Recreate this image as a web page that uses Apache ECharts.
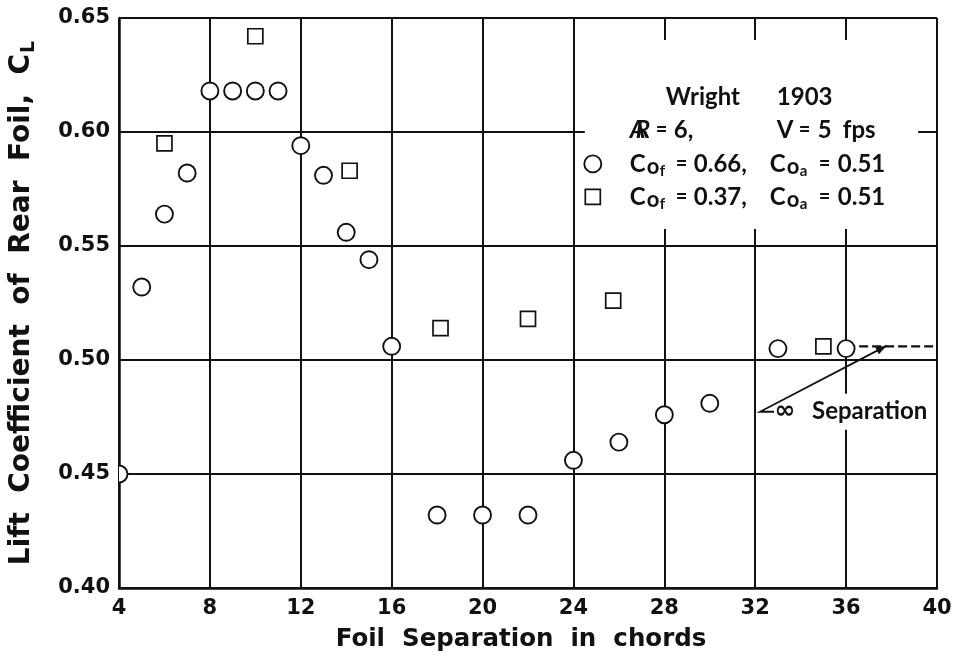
<!DOCTYPE html>
<html>
<head>
<meta charset="utf-8">
<script src="https://cdn.jsdelivr.net/npm/echarts@6/dist/echarts.min.js"></script>
<style>
  html, body { margin: 0; padding: 0; background: #fff; }
  #chart { width: 960px; height: 671px; }
</style>
</head>
<body>
<div id="chart"></div>
<script>
// Foil separation (chords) vs lift coefficient of the rear foil
const circleX = [4, 5, 6, 7, 8, 9, 10, 11, 12, 13, 14, 15, 16, 18, 20, 22, 24, 26, 28, 30, 33, 36];
const circleY = [0.450, 0.532, 0.564, 0.582, 0.618, 0.618, 0.618, 0.618, 0.594, 0.581, 0.556, 0.544, 0.506,
                 0.432, 0.432, 0.432, 0.456, 0.464, 0.476, 0.481, 0.505, 0.505];
const squareX = [6, 10, 14.15, 18.15, 22, 25.75, 35];
const squareY = [0.595, 0.642, 0.583, 0.514, 0.518, 0.526, 0.506];

// value at infinite separation, drawn as a dashed level from x = 36 onward
const infinityX = [36, 40];
const infinityY = [0.506, 0.506];

const xTicks = [4, 8, 12, 16, 20, 24, 28, 32, 36, 40];
const yTicks = [0.40, 0.45, 0.50, 0.55, 0.60, 0.65];

const seriesNames = ['Cof = 0.66, Coa = 0.51', 'Cof = 0.37, Coa = 0.51'];

const INK = '#111';
const LETTER = 'Lato';
const WIDE = 'DejaVu Sans';

const chart = echarts.init(document.getElementById('chart'), null, { renderer: 'canvas' });

const option = {
  backgroundColor: '#fff',
  animation: false,
  grid: { left: 119, right: 23, top: 18, bottom: 83, containLabel: false, outerBoundsMode: 'none' },
  xAxis: {
    type: 'value',
    min: xTicks[0], max: xTicks[xTicks.length - 1], interval: xTicks[1] - xTicks[0],
    name: 'Foil  Separation  in  chords',
    nameLocation: 'middle', nameGap: 39,
    nameTextStyle: { fontFamily: WIDE, fontWeight: 'bold', fontSize: 24.5, color: INK, padding: [0, 14, 0, 0] },
    axisLine: { lineStyle: { color: INK, width: 2.5 } },
    axisTick: { show: false },
    axisLabel: { margin: 10, fontFamily: WIDE, fontWeight: 'bold', fontSize: 21, color: INK },
    splitLine: { show: true, lineStyle: { color: INK, width: 2 } }
  },
  yAxis: {
    type: 'value',
    min: yTicks[0], max: yTicks[yTicks.length - 1], interval: 0.05,
    name: '{m|Lift  Coefficient  of  Rear  Foil,  C}{sub|L}',
    nameLocation: 'middle', nameRotate: 90, nameGap: 80,
    nameTextStyle: {
      fontFamily: WIDE, fontWeight: 'bold', fontSize: 28, color: INK,
      rich: {
        m: { fontFamily: WIDE, fontWeight: 'bold', fontSize: 28, color: INK },
        sub: { fontFamily: WIDE, fontWeight: 'bold', fontSize: 19, color: INK, padding: [16, 0, 0, 1] }
      }
    },
    axisLine: { show: true, lineStyle: { color: INK, width: 2.5 } },
    axisTick: { show: false },
    axisLabel: { margin: 9, fontFamily: WIDE, fontWeight: 'bold', fontSize: 21, color: INK, formatter: v => v.toFixed(2) },
    splitLine: { show: true, lineStyle: { color: INK, width: 2 } }
  },
  series: [
    {
      name: 'infinite separation',
      type: 'line',
      data: infinityX.map((x, i) => [x, infinityY[i]]),
      showSymbol: false, symbol: 'none', z: 1,
      lineStyle: { color: INK, width: 2.2, type: [9, 4] },
      silent: true
    },
    {
      name: seriesNames[1],
      type: 'scatter',
      data: squareX.map((x, i) => [x, squareY[i]]),
      symbol: 'rect', symbolSize: 15,
      itemStyle: { color: '#fff', borderColor: INK, borderWidth: 1.7, opacity: 1 },
      z: 3
    },
    {
      name: seriesNames[0],
      type: 'custom',
      coordinateSystem: 'cartesian2d',
      clip: true,
      z: 4,
      data: circleX.map((x, i) => [x, circleY[i]]),
      encode: { x: 0, y: 1 },
      renderItem: (params, api) => {
        const p = api.coord([api.value(0), api.value(1)]);
        return {
          type: 'circle',
          shape: { cx: p[0], cy: p[1], r: 8.5 },
          style: { fill: '#fff', stroke: INK, lineWidth: 1.9 }
        };
      }
    }
  ]
};
chart.setOption(option);

// Annotation block and the "infinite separation" pointer, positioned from data space
const px = (x, y) => chart.convertToPixel({ gridIndex: 0 }, [x, y]);

const boxTL = px(24.5, 0.6404);
const boxBR = px(39.17, 0.5575);
const bx = boxTL[0], by = boxTL[1];

const label = (text, x, y, size, extra) => ({
  type: 'text', z: 10,
  style: Object.assign({
    text, x, y, fill: INK, fontFamily: LETTER, fontWeight: 'bold', fontSize: size,
    align: 'left', verticalAlign: 'middle'
  }, extra || {})
});

const FS = 24;
const EQ = 20;
const rowY = [by + 57, by + 90, by + 124, by + 157];

// C with a two-level subscript (o, then f or a)
const coeff = (x, y, sub) => [
  label('C', x, y, FS),
  label('o', x + 17, y + 3.5, 22),
  label(sub, x + 30, y + 7.5, 15)
];

const legendRow = (y, cof, coa) => [].concat(
  coeff(bx + 45, y, 'f'),
  [label('=', bx + 91, y, EQ), label(cof, bx + 109, y, FS)],
  coeff(bx + 185, y, 'a'),
  [label('=', bx + 234, y, EQ), label(coa, bx + 253, y, FS)]
);

const arrowTip = px(37.79, 0.5063);
const arrowCorner = px(32.21, 0.4773);
const arrowEnd = px(32.83, 0.4773);

// arrowhead oriented along the leader line
const ang = Math.atan2(arrowTip[1] - arrowCorner[1], arrowTip[0] - arrowCorner[0]);
const headL = 11, headW = 4;
const hx = arrowTip[0] - headL * Math.cos(ang), hy = arrowTip[1] - headL * Math.sin(ang);
const head = [
  arrowTip,
  [hx - headW * Math.sin(ang), hy + headW * Math.cos(ang)],
  [hx + headW * Math.sin(ang), hy - headW * Math.cos(ang)]
];

const sepLabel = px(34.5, 0.4773);

chart.setOption({
  graphic: [].concat(
    [
      { type: 'rect', z: 5, shape: { x: bx, y: by, width: boxBR[0] - bx, height: boxBR[1] - by },
        style: { fill: '#fff' } },
      label('Wright', bx + 81, rowY[0], FS),
      label('1903', bx + 192, rowY[0], FS),
      label('A', bx + 45, rowY[1], FS, { fontStyle: 'italic' }),
      label('R', bx + 51, rowY[1], FS, { fontStyle: 'italic' }),
      label('=', bx + 71, rowY[1], EQ),
      label('6,', bx + 89, rowY[1], FS),
      label('V', bx + 192, rowY[1], FS),
      label('=', bx + 214, rowY[1], EQ),
      label('5', bx + 233, rowY[1], FS),
      label('fps', bx + 258, rowY[1], FS),
      { type: 'circle', z: 10, shape: { cx: bx + 8, cy: rowY[2], r: 8.5 },
        style: { fill: '#fff', stroke: INK, lineWidth: 1.9 } },
      { type: 'rect', z: 10, shape: { x: bx + 0.5, y: rowY[3] - 7.5, width: 15, height: 15 },
        style: { fill: '#fff', stroke: INK, lineWidth: 1.7 } }
    ],
    legendRow(rowY[2], '0.66,', '0.51'),
    legendRow(rowY[3], '0.37,', '0.51'),
    [
      { type: 'polyline', z: 10, shape: { points: [arrowTip, arrowCorner, arrowEnd] },
        style: { stroke: INK, lineWidth: 1.8, fill: null } },
      { type: 'polygon', z: 10, shape: { points: head }, style: { fill: INK } },
      label('\u221E', arrowEnd[0] + 0.5, arrowEnd[1], 25, { fontFamily: WIDE }),
      label('Separation', sepLabel[0] - 4, sepLabel[1], FS,
        { backgroundColor: '#fff', padding: [6, 4, 6, 4] })
    ]
  )
});
</script>
</body>
</html>
